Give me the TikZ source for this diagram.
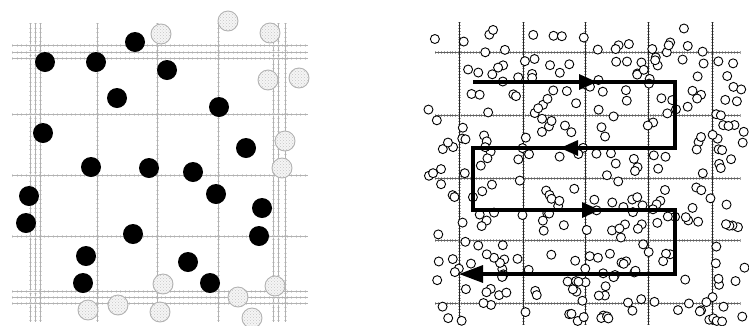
\documentclass[tikz,border=0pt]{standalone}
\usetikzlibrary{arrows.meta,patterns}

\tikzset{
  gridline/.style={gray!60, line width=0.7pt},
  gridtick/.style={gray!30, line width=3pt, dash pattern=on 0.5pt off 4pt},
  rowline/.style={gray!75!black, line width=0.8pt},
  colline/.style={black!85, line width=0.9pt},
  rowtick/.style={gray!70, line width=3pt, dash pattern=on 0.4pt off 2.5pt},
  solid dot/.style={circle, fill=black, minimum size=20pt, inner sep=0pt},
  ghost dot/.style={circle, draw=gray!60, preaction={fill=gray!8}, pattern=crosshatch dots, pattern color=gray!45, line width=0.9pt, minimum size=20pt, inner sep=0pt},
  ring/.style={circle, draw=black, fill=white, line width=0.9pt, minimum size=9pt, inner sep=0pt},
  scan/.style={line width=3.2pt, line join=miter},
  scanhead/.style={line width=3.2pt, -{Triangle[length=18pt,width=15pt]}},
}

\begin{document}
\begin{tikzpicture}[x=1pt, y=-1pt]
    \useasboundingbox (0,0) rectangle (749,325);

    % left: grid with doubled borders
    \foreach \x in {30,35,40,97,157,218,273,278,285} {
        \draw[gridtick] (\x,23) -- (\x,322);
        \draw[gridline] (\x,23) -- (\x,322);
    }
    \foreach \y in {45,52,58,114,175,236,291,297,303} {
        \draw[gridtick] (12,\y) -- (308,\y);
        \draw[gridline] (12,\y) -- (308,\y);
    }

    % particles outside the domain
    \foreach \x/\y [count=\i] in {161/34, 228/21, 270/33, 268/80, 299/78,
        285/141, 282/168, 163/284, 275/286, 238/297, 88/310, 118/305,
        160/312, 252/318}
        \node[ghost dot] (g\i) at (\x,\y) {};

    % particles inside
    \foreach \x/\y [count=\i] in {135/42, 45/62, 96/62, 167/70, 117/98,
        219/107, 43/133, 246/148, 91/167, 149/168, 193/172, 216/194,
        29/196, 262/208, 26/223, 133/234, 259/236, 86/256, 188/262,
        83/283, 210/283}
        \node[solid dot] (b\i) at (\x,\y) {};

    % right: grid
    \foreach \y in {52,115,178,240,303} {
        \draw[rowtick] (435,\y) -- (740,\y);
        \draw[rowline] (435,\y) -- (740,\y);
    }
    \foreach \x in {459,523,585,648,712} {
        \draw[rowtick] (\x,22) -- (\x,325);
        \draw[colline] (\x,22) -- (\x,325);
    }

    % scattered particles
    \pgfmathsetseed{4217}
    \foreach \i in {1,...,300} {
        \pgfmathsetmacro\cx{428+318*rnd}
        \pgfmathsetmacro\cy{28+294*rnd}
        \node[ring] (c\i) at (\cx,\cy) {};
    }

    % sweep order
    \coordinate (s0) at (473,82);
    \coordinate (s1) at (675,82);
    \coordinate (s2) at (675,148);
    \coordinate (s3) at (473,148);
    \coordinate (s4) at (473,210);
    \coordinate (s5) at (675,210);
    \coordinate (s6) at (675,274);
    \coordinate (s7) at (459,274);
    \coordinate (a1) at (597,82);
    \coordinate (a2) at (560,148);
    \coordinate (a3) at (600,210);

    \draw[scan, -{Triangle[length=24pt,width=17pt]}] (s0) -- (s1) -- (s2) -- (s3) -- (s4) -- (s5) -- (s6) -- (s7);
    \draw[scanhead] (s0) -- (a1);
    \draw[scanhead] (s2) -- (a2);
    \draw[scanhead] (s4) -- (a3);
\end{tikzpicture}
\end{document}
